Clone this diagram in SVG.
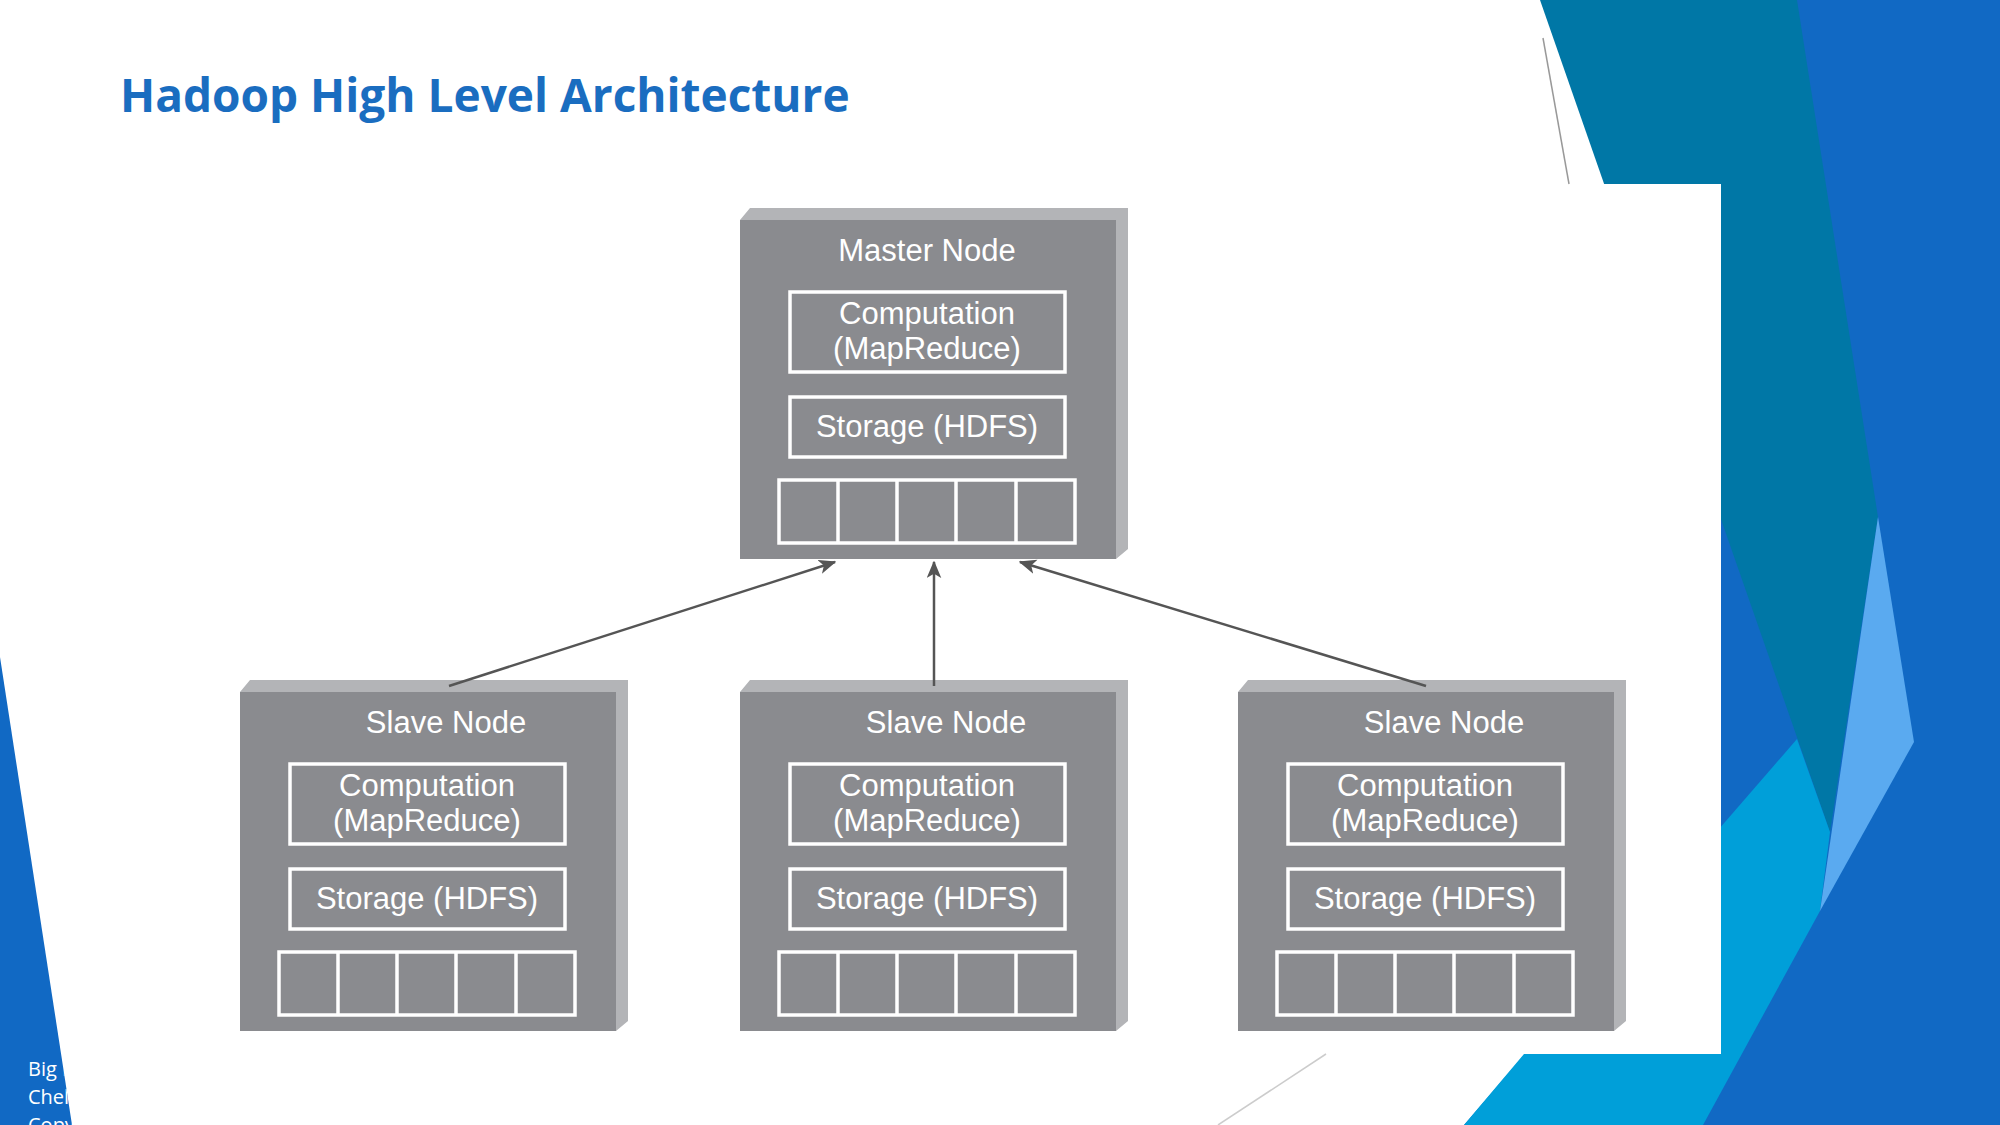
<svg xmlns="http://www.w3.org/2000/svg" width="2000" height="1125" viewBox="0 0 2000 1125">
<style>
.face{fill:#8a8b8f}
.bev{fill:#b3b4b7}
.box{fill:none;stroke:#fff;stroke-width:3.5}
.t{font-family:"Liberation Sans",Arial,sans-serif;font-size:31px;fill:#fff;text-anchor:middle}
.conn{stroke:#555;stroke-width:2.5;fill:none;marker-end:url(#ah)}
</style>
<defs>
<marker id="ah" viewBox="0 0 12 10" refX="11" refY="5" markerWidth="7" markerHeight="6" orient="auto" markerUnits="strokeWidth"><path d="M0,0 L12,5 L0,10 L3,5 z" fill="#555"/></marker>
<clipPath id="strip"><polygon points="0,657 72,1125 0,1125"/></clipPath>
<g id="nodeShape">
<polygon class="bev" points="0,12 10,0 388,0 388,341 376,351 376,12"/>
<rect class="face" x="0" y="12" width="376" height="339"/>
<rect class="box" x="50" y="84" width="275" height="80"/>
<rect class="box" x="50" y="189" width="275" height="60"/>
<rect class="box" x="39" y="272" width="296" height="63"/>
<path d="M98,272V335M157,272V335M216,272V335M276,272V335" stroke="#fff" stroke-width="3.5"/>
</g>
</defs>
<rect width="2000" height="1125" fill="#fff"/>
<g id="decor">
<polygon points="1700,0 2000,0 2000,1125 1464,1125 1700,850" fill="#1169c4"/>
<polygon points="1540,0 1797,0 1878,517 1830,832" fill="#0077a6"/>
<polygon points="1464,1125 1524,1054 1797,739 1830,832 1820,911 1703,1125" fill="#009fd9"/>
<polygon points="1878,517 1914,742 1820,911" fill="#5aaaf0"/>
<rect x="1100" y="184" width="621" height="870" fill="#fff"/>
<line x1="1543" y1="38" x2="1569" y2="184" stroke="#999" stroke-width="1.5"/>
<line x1="1218" y1="1125" x2="1326" y2="1054" stroke="#ccc" stroke-width="1.5"/>
<polygon points="0,657 72,1125 0,1125" fill="#1169c4"/>
<g clip-path="url(#strip)" font-family="'Open Sans',sans-serif" font-size="20" fill="#fff">
<text x="28" y="1076">Big Data</text>
<text x="28" y="1104">Chelsea</text>
<text x="28" y="1132">Copyright</text>
</g>
</g>
<text x="120" y="112" font-family="'Open Sans',sans-serif" font-weight="bold" font-size="46" fill="#1a6dc0">Hadoop High Level Architecture</text>
<g id="master" transform="translate(740,208)">
<use href="#nodeShape"/>
<text class="t" x="187" y="53">Master Node</text>
<text class="t" x="187" y="116">Computation</text>
<text class="t" x="187" y="151">(MapReduce)</text>
<text class="t" x="187" y="229">Storage (HDFS)</text>
</g>
<g id="slave1" transform="translate(240,680)">
<use href="#nodeShape"/>
<text class="t" x="206" y="53">Slave Node</text>
<text class="t" x="187" y="116">Computation</text>
<text class="t" x="187" y="151">(MapReduce)</text>
<text class="t" x="187" y="229">Storage (HDFS)</text>
</g>
<g id="slave2" transform="translate(740,680)">
<use href="#nodeShape"/>
<text class="t" x="206" y="53">Slave Node</text>
<text class="t" x="187" y="116">Computation</text>
<text class="t" x="187" y="151">(MapReduce)</text>
<text class="t" x="187" y="229">Storage (HDFS)</text>
</g>
<g id="slave3" transform="translate(1238,680)">
<use href="#nodeShape"/>
<text class="t" x="206" y="53">Slave Node</text>
<text class="t" x="187" y="116">Computation</text>
<text class="t" x="187" y="151">(MapReduce)</text>
<text class="t" x="187" y="229">Storage (HDFS)</text>
</g>
<g id="connectors">
<line class="conn" x1="449" y1="686" x2="835" y2="562"/>
<line class="conn" x1="934" y1="686" x2="934" y2="562"/>
<line class="conn" x1="1426" y1="686" x2="1020" y2="562"/>
</g>
</svg>
